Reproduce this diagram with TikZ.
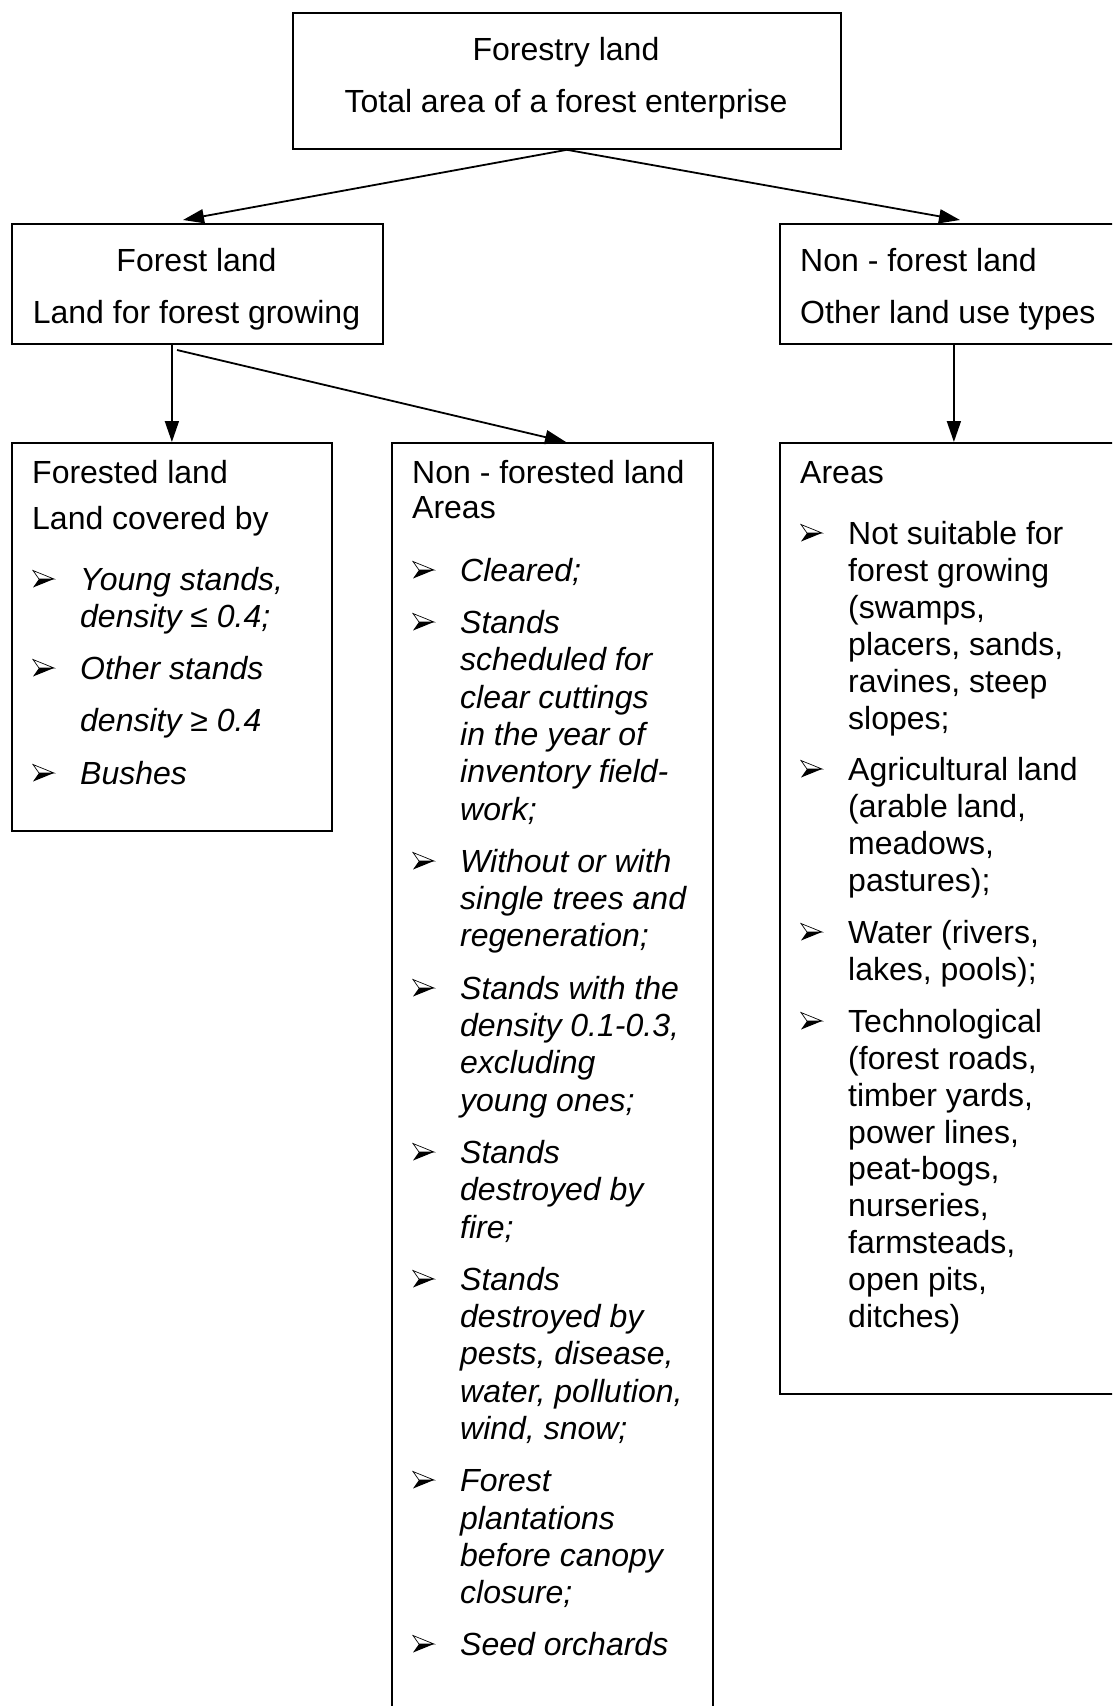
\documentclass[tikz,border=0pt]{standalone}
\usepackage{fontspec}
\setmainfont{Liberation Sans}
\usetikzlibrary{arrows.meta}
\begin{document}
\begin{tikzpicture}[x=1pt,y=-1pt,
  box/.style={draw,line width=1.8pt,inner sep=0pt,anchor=north west},
  arr/.style={line width=1.8pt,-{Triangle[length=21pt,width=14pt]}},
  txt/.style={inner sep=0pt,anchor=base west,font=\fontsize{32pt}{37pt}\selectfont},
  ctxt/.style={inner sep=0pt,anchor=base,font=\fontsize{32pt}{37pt}\selectfont},
  itx/.style={inner sep=0pt,anchor=base west,font=\fontsize{32pt}{37pt}\selectfont\itshape},
  bulletarrow/.pic={
    \filldraw[fill=white,draw=black,line width=0.7pt] (0,-8.5) -- (21,0) -- (6,0) -- cycle;
    \fill[black] (6,0) -- (21,0) -- (0,8.5) -- cycle;
  }]
\useasboundingbox (0,0) rectangle (1112,1706);
\clip (0,0) rectangle (1112,1706);

% boxes
\node[box,minimum width=548pt,minimum height=136pt] (top) at (292,12) {};
\node[box,minimum width=371pt,minimum height=120pt] (fl) at (11,223) {};
\node[box,minimum width=348pt,minimum height=120pt] (nfl) at (779,223) {};
\node[box,minimum width=320pt,minimum height=388pt] (fdl) at (11,442) {};
\node[box,minimum width=321pt,minimum height=1300pt] (nfd) at (391,442) {};
\node[box,minimum width=348pt,minimum height=951pt] (ar) at (779,442) {};

% connectors
\coordinate (tl) at (183,220);
\coordinate (tr) at (960,220);
\draw[arr] (top.south) -- (tl);
\draw[arr] (top.south) -- (tr);
\draw[arr] (fdl.north |- fl.south) -- (fdl.north);
\coordinate (ds) at (177,350);
\coordinate (de) at (566,442);
\draw[arr] (ds) -- (de);
\draw[arr] (nfl.south) -- (ar.north);

% top box text
\node[ctxt] (t1) at (566,60) {Forestry land};
\node[ctxt] (t2) at (566,112) {Total area of a forest enterprise};

% forest land
\node[ctxt] (f1) at (196.5,271) {Forest land};
\node[ctxt] (f2) at (196.5,323) {Land for forest growing};

% non-forest land
\node[txt] (n1) at (800,271) {Non - forest land};
\node[txt] (n2) at (800,323) {Other land use types};

% forested land
\foreach \y/\t [count=\i] in {483/Forested land,529/Land covered by}
  \node[txt] (fa\i) at (32,\y) {\t};
\foreach \y/\t [count=\i] in {590/{Young stands,},627/{density ≤ 0.4;},679/{Other stands},731/{density ≥ 0.4},784/{Bushes}}
  \node[itx] (fb\i) at (80,\y) {\t};
\foreach \y in {590,679,784}
  \pic at (33,\y-11) {bulletarrow};

% non-forested land
\foreach \y/\t [count=\i] in {483/Non - forested land,518/Areas}
  \node[txt] (na\i) at (412,\y) {\t};
\foreach \y/\t [count=\i] in {581/{Cleared;},
  633/{Stands},670/{scheduled for},708/{clear cuttings},745/{in the year of},782/{inventory field-},820/{work;},
  872/{Without or with},909/{single trees and},946/{regeneration;},
  999/{Stands with the},1036/{density 0.1-0.3,},1073/{excluding},1111/{young ones;},
  1163/{Stands},1200/{destroyed by},1238/{fire;},
  1290/{Stands},1327/{destroyed by},1364/{pests, disease,},1402/{water, pollution,},1439/{wind, snow;},
  1491/{Forest},1529/{plantations},1566/{before canopy},1603/{closure;},
  1655/{Seed orchards}}
  \node[itx] (nb\i) at (460,\y) {\t};
\foreach \y in {581,633,872,999,1163,1290,1491,1655}
  \pic at (413,\y-11) {bulletarrow};

% areas
\node[txt] (aa1) at (800,483) {Areas};
\foreach \y/\t [count=\i] in {544/{Not suitable for},581/{forest growing},618/{(swamps,},655/{placers, sands,},692/{ravines, steep},729/{slopes;},
  780/{Agricultural land},817/{(arable land,},854/{meadows,},891/{pastures);},
  943/{Water (rivers,},980/{lakes, pools);},
  1032/{Technological},1069/{(forest roads,},1106/{timber yards,},1143/{power lines,},1179/{peat-bogs,},1216/{nurseries,},1253/{farmsteads,},1290/{open pits,},1327/{ditches)}}
  \node[txt] (ab\i) at (848,\y) {\t};
\foreach \y in {544,780,943,1032}
  \pic at (801,\y-11) {bulletarrow};
\end{tikzpicture}
\end{document}
